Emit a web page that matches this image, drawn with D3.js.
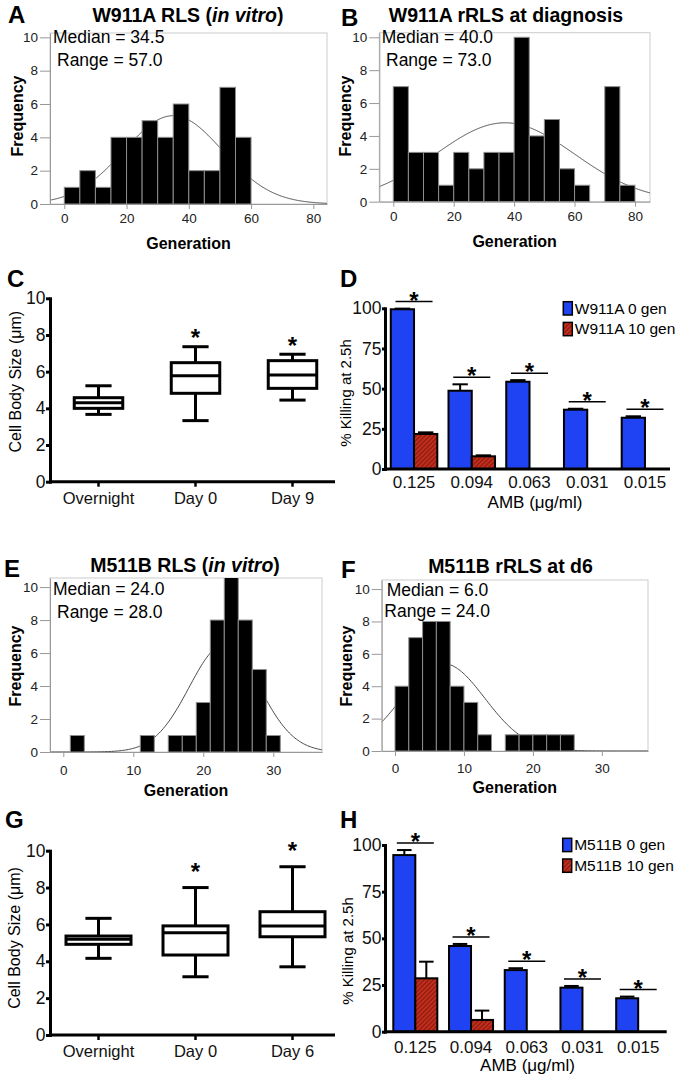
<!DOCTYPE html>
<html><head><meta charset="utf-8">
<script src="https://cdn.jsdelivr.net/npm/d3@7"></script>
<style>
body{margin:0;background:#fff;}
svg{display:block;font-family:"Liberation Sans",Arial,Helvetica,sans-serif;}
</style></head><body>
<svg id="fig" width="675" height="1077"></svg>
<script>
// ---------------- DATA ----------------
// Histograms (frequency per bin)
const histA = [1,2,1,4,4,5,4,6,2,2,7,4];            // bins of 5 starting at 0
const histB = [7,3,3,1,3,2,3,3,10,4,5,2,1,0,7,1];    // bins of 5 starting at 0
const histE = [1,0,0,0,0,1,0,1,1,3,8,11,8,5,1];      // bins of 2 starting at 1
const histF = [4,7,8,8,4,3,1,0,1,1,1,1,1];           // bins of 2 starting at 0
const binStart = {A:0, B:0, E:1, F:0};
const binWidth = {A:5, B:5, E:2, F:2};
// fitted normal curves (mean, sd, peak height)
const fitA = {mean:35, sd:15.8, peak:5.3};
const fitB = {mean:37, sd:22.9, peak:4.8};
const fitE = {mean:23, sd:5.0, peak:6.5};
const fitF = {mean:7, sd:6.0, peak:5.4};
const histTitles = ["W911A RLS (in vitro)", "W911A rRLS at diagnosis", "M511B RLS (in vitro)", "M511B rRLS at d6"];
const medianTexts = ["Median = 34.5","Median = 40.0","Median = 24.0","Median = 6.0"];
const rangeTexts = ["Range = 57.0","Range = 73.0","Range = 28.0","Range = 24.0"];
const genTicksAB = [0,20,40,60,80];
const genTicksEF = [0,10,20,30];
const freqTicks = [0,2,4,6,8,10];

// Box plots: [whisker low, Q1, median, Q3, whisker high]
const catsC = ["Overnight","Day 0","Day 9"];
const boxC = [[3.67,4.0,4.31,4.58,5.23],[3.33,4.82,5.78,6.49,7.36],[4.45,5.09,5.82,6.6,6.95]];
const starC = [false,true,true];
const catsG = ["Overnight","Day 0","Day 6"];
const boxG = [[4.16,4.92,5.19,5.37,6.33],[3.16,4.34,5.55,5.92,8.0],[3.7,5.33,5.91,6.69,9.13]];
const starG = [false,true,true];
const sizeTicks = [0,2,4,6,8,10];

// Killing bar charts
const amb = ["0.125","0.094","0.063","0.031","0.015"];
const w911a0 = [99.4,48.7,54.3,36.9,31.9];
const w911a0Err = [0.4,4.0,1.0,0.6,0.9];
const w911a10 = [21.8,7.9,0,0,0];
const w911a10Err = [1.0,0.6,0,0,0];
const m511b0 = [94.6,45.9,33.0,23.6,17.9];
const m511b0Err = [2.7,1.1,1.0,0.9,0.9];
const m511b10 = [28.6,6.3,0,0,0];
const m511b10Err = [8.9,5.0,0,0,0];
const killTicks = [0,25,50,75,100];

// ---------------- DRAWING ----------------
const svg = d3.select('#fig');
svg.append('rect').attr('width',675).attr('height',1077).attr('fill','#fff');
const defs = svg.append('defs');
const pat = defs.append('pattern').attr('id','hatch').attr('patternUnits','userSpaceOnUse')
  .attr('width',3.2).attr('height',3.2).attr('patternTransform','rotate(45)');
pat.append('rect').attr('width',3.2).attr('height',3.2).attr('fill','#c4301f');
pat.append('line').attr('x1',0.8).attr('y1',0).attr('x2',0.8).attr('y2',3.2).attr('stroke','#84150b').attr('stroke-width',1.1);

const FONT = '"Liberation Sans",Arial,Helvetica,sans-serif';

function styleAxis(a, color, width, fs, tcolor){
  a.attr('font-family', FONT).attr('font-size', fs);
  a.select('.domain').attr('stroke', color).attr('stroke-width', width);
  a.selectAll('.tick line').attr('stroke', color).attr('stroke-width', width);
  a.selectAll('.tick text').attr('fill', tcolor);
}

function letter(t, x, y){
  svg.append('text').attr('x',x).attr('y',y).attr('font-size',24).attr('font-weight','bold').text(t);
}
function rotLabel(t, x, y, fs, bold){
  svg.append('text').attr('transform',`translate(${x},${y}) rotate(-90)`).attr('text-anchor','middle')
    .attr('dominant-baseline','central').attr('font-size',fs).attr('font-weight',bold?'bold':'normal').text(t);
}

function drawHist(p){
  const x = d3.scaleLinear().domain(p.xDomain).range([p.left,p.right]);
  const y = d3.scaleLinear().domain([0,p.yMax]).range([p.bottom,p.top]);
  const cid = 'clip'+p.id;
  defs.append('clipPath').attr('id',cid).append('rect')
    .attr('x',p.left).attr('y',p.top).attr('width',p.right-p.left).attr('height',p.bottom-p.top);
  svg.append('rect').attr('x',p.left).attr('y',p.top).attr('width',p.right-p.left).attr('height',p.bottom-p.top)
    .attr('fill','none').attr('stroke','#cccccc').attr('stroke-width',1);
  const inner = svg.append('g').attr('clip-path',`url(#${cid})`);
  const xs = d3.range(p.xDomain[0], p.xDomain[1]+0.2, 0.2);
  const f = p.fit;
  const line = d3.line().x(v=>x(v)).y(v=>y(f.peak*Math.exp(-((v-f.mean)**2)/(2*f.sd*f.sd))));
  inner.append('path').attr('d',line(xs)).attr('fill','none').attr('stroke','#4a4a4a').attr('stroke-width',1);
  const bins = p.counts.map((c,i)=>({c, x0:p.start+i*p.width, x1:p.start+(i+1)*p.width})).filter(d=>d.c>0);
  inner.selectAll('rect.bar').data(bins).join('rect').attr('class','bar')
    .attr('x',d=>x(d.x0)).attr('width',d=>x(d.x1)-x(d.x0))
    .attr('y',d=>y(d.c)).attr('height',d=>y(0)-y(d.c))
    .attr('fill','#000').attr('stroke','#8d8d8d').attr('stroke-width',1);
  const ya = svg.append('g').attr('transform',`translate(${p.left},0)`)
    .call(d3.axisLeft(y).tickValues(freqTicks).tickSize(10).tickPadding(2).tickSizeOuter(0));
  styleAxis(ya,'#999',1,13.5,'#222');
  const xa = svg.append('g').attr('transform',`translate(0,${p.bottom})`)
    .call(d3.axisBottom(x).tickValues(p.ticks).tickSize(5).tickPadding(p.xPad).tickSizeOuter(0));
  styleAxis(xa,'#999',1,13.5,'#222');
  // title
  const tt = svg.append('text').attr('x',p.titleX).attr('y',p.titleY).attr('text-anchor','middle')
    .attr('font-size',19.5).attr('font-weight','bold');
  const m = p.title.match(/^(.*\()(in vitro)(\))$/);
  if(m){ tt.append('tspan').text(m[1]); tt.append('tspan').attr('font-style','italic').text(m[2]); tt.append('tspan').text(m[3]); }
  else tt.text(p.title);
  svg.append('text').attr('x',p.medX).attr('y',p.medY).attr('font-size',17.5).text(p.median);
  svg.append('text').attr('x',p.rngX).attr('y',p.rngY).attr('font-size',17.5).text(p.range);
  rotLabel('Frequency', p.ylabX, p.ylabY, 16, true);
  svg.append('text').attr('x',(p.left+p.right)/2).attr('y',p.genY).attr('text-anchor','middle')
    .attr('font-size',16).attr('font-weight','bold').text('Generation');
  letter(p.id, p.letX, p.letY);
}

function drawBox(p){
  const x = d3.scaleBand().domain(p.cats).range(p.band);
  const y = d3.scaleLinear().domain([0,10]).range([p.bottom,p.top]);
  const bw = x.bandwidth()*p.boxFrac, cw = x.bandwidth()*0.27;
  const g = svg.append('g');
  p.boxes.forEach((b,i)=>{
    const cx = x(p.cats[i]) + x.bandwidth()/2;
    const st = {stroke:'#000','stroke-width':3};
    const ln = (x1,y1,x2,y2)=>{const l=g.append('line').attr('x1',x1).attr('y1',y1).attr('x2',x2).attr('y2',y2); Object.entries(st).forEach(([k,v])=>l.attr(k,v));};
    ln(cx,y(b[0]),cx,y(b[1]));
    ln(cx,y(b[3]),cx,y(b[4]));
    ln(cx-cw/2,y(b[0]),cx+cw/2,y(b[0]));
    ln(cx-cw/2,y(b[4]),cx+cw/2,y(b[4]));
    g.append('rect').attr('x',cx-bw/2).attr('y',y(b[3])).attr('width',bw).attr('height',y(b[1])-y(b[3]))
      .attr('fill','#fff').attr('stroke','#000').attr('stroke-width',3);
    ln(cx-bw/2,y(b[2]),cx+bw/2,y(b[2]));
    if(p.stars[i]){
      g.append('text').attr('x',cx).attr('y',y(b[4])-p.starOff+13).attr('text-anchor','middle')
        .attr('font-size',24).attr('font-weight','bold').text('*');
    }
  });
  const ya = svg.append('g').attr('transform',`translate(${p.band[0]},0)`)
    .call(d3.axisLeft(y).tickValues(sizeTicks).tickSize(4).tickPadding(0.5).tickSizeOuter(0));
  styleAxis(ya,'#000',3,17.5,'#111');
  ya.select('.domain').attr('stroke-linecap','square');
  const xa = svg.append('g').attr('transform',`translate(0,${p.bottom})`)
    .call(d3.axisBottom(x).tickSize(5).tickPadding(5.5).tickSizeOuter(0));
  styleAxis(xa,'#000',2.5,16.5,'#111');
  xa.select('.domain').attr('d',`M${p.band[0]},0H${p.axisRight}`).attr('stroke-width',3);
  rotLabel('Cell Body Size (\u03bcm)', p.ylabX, p.ylabY, 16, false);
  letter(p.id, p.letX, p.letY);
}

function drawBars(p){
  const x0 = d3.scaleBand().domain(amb).range(p.band).paddingInner(p.pIn).paddingOuter(p.pOut);
  const x1 = d3.scaleBand().domain([0,1]).range([0,x0.bandwidth()]);
  const y = d3.scaleLinear().domain([0,100]).range([p.bottom,p.top]);
  const series = [{v:p.s0,e:p.e0,fill:'#1f43f2'},{v:p.s1,e:p.e1,fill:'url(#hatch)'}];
  const g = svg.append('g');
  series.forEach((s,k)=>{
    amb.forEach((c,i)=>{
      const bx = x0(c)+x1(k), w = x1.bandwidth(), cx = bx+w/2;
      if(s.v[i] <= 0) return;
      if(s.e[i] > 0){
        g.append('line').attr('x1',cx).attr('x2',cx).attr('y1',y(s.v[i])).attr('y2',y(s.v[i]+s.e[i])).attr('stroke','#000').attr('stroke-width',2);
        g.append('line').attr('x1',cx-w*0.33).attr('x2',cx+w*0.33).attr('y1',y(s.v[i]+s.e[i])).attr('y2',y(s.v[i]+s.e[i])).attr('stroke','#000').attr('stroke-width',2);
      }
      g.append('rect').attr('x',bx).attr('y',y(s.v[i])).attr('width',w).attr('height',y(0)-y(s.v[i]))
        .attr('fill',s.fill).attr('stroke','#000').attr('stroke-width',2);
    });
  });
  // significance lines and stars
  amb.forEach((c,i)=>{
    const top = Math.max(p.s0[i]+p.e0[i], p.s1[i]+p.e1[i]);
    const ly = y(top) - 7;
    const cx = x0(c) + x0.bandwidth()/2;
    g.append('line').attr('x1',cx-18.5).attr('x2',cx+18.5).attr('y1',ly).attr('y2',ly).attr('stroke','#000').attr('stroke-width',1.5);
    g.append('text').attr('x',cx).attr('y',ly+7).attr('text-anchor','middle').attr('font-size',24).attr('font-weight','bold').text('*');
  });
  const ya = svg.append('g').attr('transform',`translate(${p.band[0]},0)`)
    .call(d3.axisLeft(y).tickValues(killTicks).tickSize(3).tickPadding(0.5).tickSizeOuter(0));
  styleAxis(ya,'#000',3,17.5,'#111');
  ya.select('.domain').attr('stroke-linecap','square');
  const xa = svg.append('g').attr('transform',`translate(0,${p.bottom})`)
    .call(d3.axisBottom(x0).tickSize(0).tickPadding(p.xPad).tickSizeOuter(0));
  styleAxis(xa,'#000',3,17,'#111');
  xa.select('.domain').attr('d',`M${p.band[0]},0H${p.axisRight}`);
  rotLabel('% Killing at 2.5h', p.ylabX, p.ylabY, 15, false);
  svg.append('text').attr('x',p.ambX).attr('y',p.ambY).attr('text-anchor','middle').attr('font-size',17).text('AMB (\u03bcg/ml)');
  // legend
  [[ '#1f43f2', p.leg[0]],['url(#hatch)', p.leg[1]]].forEach(([fill,t],k)=>{
    svg.append('rect').attr('x',p.legX).attr('y',p.legY+k*20.7).attr('width',9).attr('height',13.3)
      .attr('fill',fill).attr('stroke','#000').attr('stroke-width',1.5);
    svg.append('text').attr('x',p.legX+11.5).attr('y',p.legY+12+k*20.7).attr('font-size',15.5).text(t);
  });
  letter(p.id, p.letX, p.letY);
}

drawHist({id:'A',counts:histA,start:binStart.A,width:binWidth.A,fit:fitA,ticks:genTicksAB,
  left:50,right:327,top:33,bottom:204,xDomain:[-4.59,84.4],yMax:10.26,xPad:4.5,
  title:histTitles[0],titleX:188,titleY:22,median:medianTexts[0],range:rangeTexts[0],
  medX:53,medY:43,rngX:57,rngY:66,ylabX:17,ylabY:116,genY:248.5,letX:8,letY:23});
drawHist({id:'B',counts:histB,start:binStart.B,width:binWidth.B,fit:fitB,ticks:genTicksAB,
  left:379.3,right:650,top:32.7,bottom:201.7,xDomain:[-4.63,84.97],yMax:10.28,xPad:5,
  title:histTitles[1],titleX:506,titleY:22,median:medianTexts[1],range:rangeTexts[1],
  medX:381.7,medY:43,rngX:386,rngY:66,ylabX:345,ylabY:116,genY:247,letX:341,letY:26});
drawHist({id:'E',counts:histE,start:binStart.E,width:binWidth.E,fit:fitE,ticks:genTicksEF,
  left:50,right:322,top:578,bottom:752,xDomain:[-1.9,36.96],yMax:10.55,xPad:8,
  title:histTitles[2],titleX:185,titleY:572,median:medianTexts[2],range:rangeTexts[2],
  medX:53,medY:595,rngX:57,rngY:618,ylabX:15,ylabY:666,genY:795.5,letX:4,letY:577});
drawHist({id:'F',counts:histF,start:binStart.F,width:binWidth.F,fit:fitF,ticks:genTicksEF,
  left:381.7,right:648,top:580,bottom:751,xDomain:[-1.93,36.7],yMax:10.56,xPad:7,
  title:histTitles[3],titleX:510.5,titleY:573,median:medianTexts[3],range:rangeTexts[3],
  medX:386.7,medY:596,rngX:384.3,rngY:617,ylabX:346,ylabY:666,genY:792.5,letX:341,letY:578});

drawBox({id:'C',cats:catsC,boxes:boxC,stars:starC,band:[50,341],axisRight:335,bottom:481.7,top:298.3,
  boxFrac:0.5,starOff:13.5,ylabX:15,ylabY:381.7,letX:7,letY:287});
drawBox({id:'G',cats:catsG,boxes:boxG,stars:starG,band:[50,341],axisRight:335,bottom:1035,top:850.7,
  boxFrac:0.67,starOff:21,ylabX:14,ylabY:938,letX:5,letY:828});

drawBars({id:'D',s0:w911a0,e0:w911a0Err,s1:w911a10,e1:w911a10Err,band:[385,674],pIn:0.194,pOut:0.1,
  axisRight:670,bottom:469,top:308.3,xPad:7,ylabX:345,ylabY:393,ambX:535,ambY:507.8,
  leg:['W911A 0 gen','W911A 10 gen'],legX:563.3,legY:301.7,letX:340,letY:287});
drawBars({id:'H',s0:m511b0,e0:m511b0Err,s1:m511b10,e1:m511b10Err,band:[385,668.5],pIn:0.21,pOut:0.149,
  axisRight:666.7,bottom:1031.7,top:845,xPad:9,ylabX:347.5,ylabY:951,ambX:527.5,ambY:1071,
  leg:['M511B 0 gen','M511B 10 gen'],legX:562.7,legY:838.3,letX:340,letY:828});
</script>
</body></html>
